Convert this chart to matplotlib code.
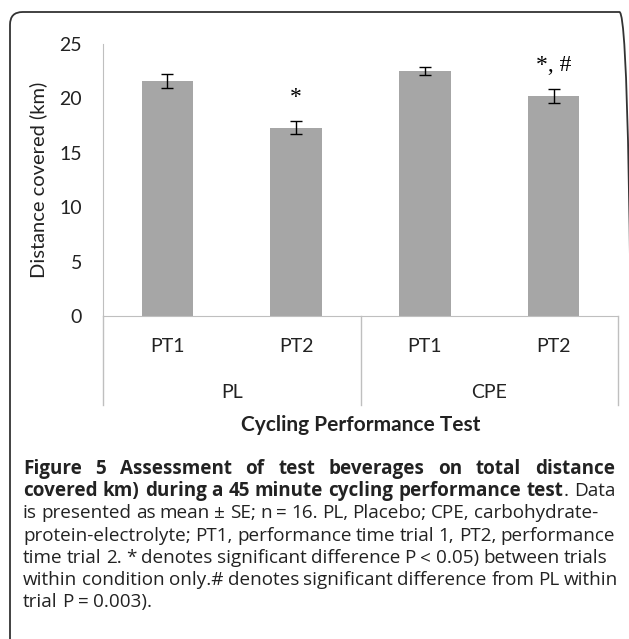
import matplotlib.pyplot as plt
import matplotlib.transforms as mtransforms
from matplotlib.patches import FancyBboxPatch
from matplotlib.lines import Line2D

# Data
conditions = ['PL', 'CPE']
trials = ['PT1', 'PT2', 'PT1', 'PT2']
distance = [21.6, 17.3, 22.5, 20.2]
se = [0.6, 0.6, 0.35, 0.65]
marks = ['', '*', '', '*, #']

caption = [
    "**Figure 5 Assessment of test beverages on total distance**",
    "**covered km) during a 45 minute cycling performance test**. Data",
    "is presented as mean \u00b1 SE; n = 16. PL, Placebo; CPE, carbohydrate-",
    "protein-electrolyte; PT1, performance time trial 1, PT2, performance",
    "time trial 2. * denotes significant difference P < 0.05) between trials",
    "within condition only.# denotes significant difference from PL within",
    "trial P = 0.003).",
]

W, H = 629, 639
fig = plt.figure(figsize=(W / 100, H / 100), dpi=100)

# px -> figure fraction helpers
fx = lambda px: px / W
fy = lambda py: 1 - py / H

ax = fig.add_axes([fx(103), fy(316), fx(618) - fx(103), fy(44) - fy(316)])
chart_font = 'Lato'
txt_col = '#222222'
x = list(range(len(distance)))
ax.bar(x, distance, width=0.4, color='#a6a6a6', zorder=2)
ax.errorbar(x, distance, yerr=se, fmt='none', ecolor='black', elinewidth=1,
            capsize=4, capthick=1, zorder=3)
for xi, m, d, s in zip(x, marks, distance, se):
    if m:
        ax.text(xi, d + s + 2.2, m, ha='center', va='center', fontsize=17,
                family='Liberation Serif')

ax.set_xlim(-0.5, len(distance) - 0.5)
ax.set_ylim(0, 25)
ax.set_yticks([0, 5, 10, 15, 20, 25])
ax.set_xticks([])
ax.tick_params(axis='y', length=0, pad=15, labelsize=14)
for lbl in ax.get_yticklabels():
    lbl.set_family(chart_font)
    lbl.set_color(txt_col)
for side in ['top', 'right']:
    ax.spines[side].set_visible(False)
ax.spines['left'].set_color('#bfbfbf')
ax.spines['bottom'].set_color('#bfbfbf')
ax.set_ylabel('Distance covered (km)', fontsize=14.5, family=chart_font,
              color=txt_col, labelpad=9)

# multi-level category axis
trans = mtransforms.blended_transform_factory(ax.transData, ax.transAxes)
h_ax = 316 - 44
to_ax = lambda py: (316 - py) / h_ax
for xi, t in zip(x, trials):
    ax.text(xi, to_ax(347), t, transform=trans, ha='center', va='center',
            fontsize=14, family=chart_font, color=txt_col)
n_per = len(trials) // len(conditions)
for i, c in enumerate(conditions):
    ax.text(i * n_per + (n_per - 1) / 2, to_ax(393), c, transform=trans,
            ha='center', va='center', fontsize=14, family=chart_font,
            color=txt_col)
for b in range(len(conditions) + 1):
    xb = b * n_per - 0.5
    ax.add_line(Line2D([xb, xb], [0, to_ax(405)], transform=trans,
                       color='#bfbfbf', lw=1, clip_on=False))
ax.text(0.5 * (len(trials) - 1), to_ax(425), 'Cycling Performance Test',
        transform=trans, ha='center', va='center', fontsize=15,
        fontweight='bold', family=chart_font, color=txt_col)

# rounded frame
fig.patches.append(FancyBboxPatch((fx(10), fy(700)), fx(632) - fx(10),
                                  fy(12) - fy(700),
                                  boxstyle='round,pad=0,rounding_size=0.02',
                                  transform=fig.transFigure, fill=False,
                                  edgecolor='#333333', lw=1.3))

# caption: first two lines justified, the rest ragged right
cap_font = 'Open Sans'
cap_size = 13.6
renderer = fig.canvas.get_renderer()


def parse(line):
    words, bold = [], False
    cur = []
    for k, chunk in enumerate(line.split('**')):
        if k > 0:
            bold = not bold
        parts = chunk.split(' ')
        for j, p in enumerate(parts):
            if j > 0:
                if cur:
                    words.append(cur)
                cur = []
            if p:
                cur.append((p, bold))
    if cur:
        words.append(cur)
    return words


def width(s, bold):
    t = fig.text(0, 0, s, fontsize=cap_size, family=cap_font,
                 fontweight='bold' if bold else 'normal')
    w = t.get_window_extent(renderer).width
    t.remove()
    return w


left, right = 23, 615
baselines = [474, 496, 518, 541, 563, 585, 607]
space = width('a b', False) - width('ab', False)
for li, (line, yb) in enumerate(zip(caption, baselines)):
    words = parse(line)
    wws = [sum(width(s, b) for s, b in wd) for wd in words]
    if li < 2:
        gap = (right - left - sum(wws)) / (len(words) - 1)
    else:
        gap = space * 0.9
    xp = left
    for wd, ww in zip(words, wws):
        xx = xp
        for s, b in wd:
            fig.text(fx(xx), fy(yb), s, fontsize=cap_size, family=cap_font,
                     fontweight='bold' if b else 'normal', color=txt_col,
                     va='baseline', ha='left')
            xx += width(s, b)
        xp += ww + gap

fig.savefig('out.png', dpi=100)
